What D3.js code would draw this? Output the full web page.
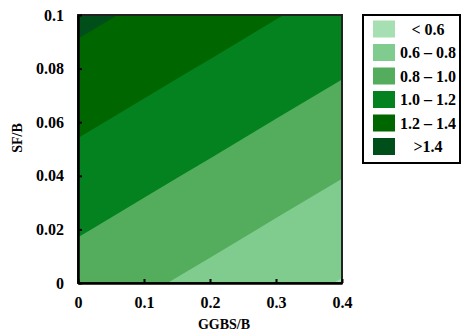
<!DOCTYPE html>
<html lang="en">
<head>
    <meta charset="UTF-8">
    <title>SF/B vs GGBS/B contour</title>
    <script type="application/javascript" src="https://cdnjs.cloudflare.com/ajax/libs/d3/7.8.5/d3.min.js"></script>
    <style type="text/css">
        body {
            margin: 0;
            background: #fff;
        }

        text {
            font-family: "Liberation Serif", "Times New Roman", serif;
            font-weight: bold;
            fill: #000;
        }

        .axis text {
            font-size: 16px;
        }
    </style>
</head>
<body>
<svg width="463" height="333"></svg>
<script type="application/javascript">
    // grid: rows are SF/B, columns GGBS/B
    var GGBS = [0, 0.1, 0.2, 0.3, 0.4];
    var SF = [0, 0.02, 0.04, 0.06, 0.08, 0.1];
    var RATIO = [
        [0.908, 0.828, 0.749, 0.669, 0.590],
        [1.016, 0.936, 0.857, 0.777, 0.698],
        [1.124, 1.044, 0.965, 0.885, 0.806],
        [1.232, 1.152, 1.073, 0.993, 0.914],
        [1.340, 1.260, 1.181, 1.101, 1.022],
        [1.448, 1.368, 1.289, 1.209, 1.130]
    ];
    var THRESHOLDS = [0.6, 0.8, 1.0, 1.2, 1.4];
    var LEGEND_LABELS = ['< 0.6', '0.6 \u2013 0.8', '0.8 \u2013 1.0', '1.0 \u2013 1.2', '1.2 \u2013 1.4', '>1.4'];
    var COLORS = ['#a6e0b2', '#80cc8e', '#53ad5c', '#03821f', '#006600', '#004f1b'];
    var X_TICKS = [0, 0.1, 0.2, 0.3, 0.4];
    var X_TICK_LABELS = ['0', '0.1', '0.2', '0.3', '0.4'];
    var Y_TICKS = [0, 0.02, 0.04, 0.06, 0.08, 0.1];
    var Y_TICK_LABELS = ['0', '0.02', '0.04', '0.06', '0.08', '0.1'];

    var svg = d3.select("svg");
    var margin = {top: 15, right: 121, bottom: 50, left: 78};
    var width = +svg.attr("width") - margin.left - margin.right;
    var height = +svg.attr("height") - margin.top - margin.bottom;

    var x = d3.scaleLinear().domain([0, 0.4]).range([0, width]);
    var y = d3.scaleLinear().domain([0, 0.1]).range([height, 0]);

    // d3.contours puts grid value i at i + 0.5
    var gx = d3.scaleLinear().domain([0.5, GGBS.length - 0.5]).range([x(GGBS[0]), x(GGBS[GGBS.length - 1])]);
    var gy = d3.scaleLinear().domain([0.5, SF.length - 0.5]).range([y(SF[0]), y(SF[SF.length - 1])]);

    var g = svg.append("g")
            .attr("transform", "translate(" + margin.left + "," + margin.top + ")");

    g.append("clipPath")
            .attr("id", "plot-clip")
            .append("rect")
            .attr("width", width)
            .attr("height", height);

    var values = [];
    RATIO.forEach(function(row) { values = values.concat(row); });

    var contours = d3.contours()
            .size([GGBS.length, SF.length])
            .thresholds(THRESHOLDS)(values);

    var path = d3.geoPath(d3.geoTransform({
        point: function(px, py) { this.stream.point(gx(px), gy(py)); }
    }));

    var plot = g.append("g").attr("clip-path", "url(#plot-clip)");

    plot.append("rect")
            .attr("width", width)
            .attr("height", height)
            .attr("fill", COLORS[0]);

    plot.selectAll("path")
            .data(contours)
            .enter().append("path")
            .attr("d", path)
            .attr("fill", function(d, i) { return COLORS[i + 1]; });

    // frame
    g.append("rect")
            .attr("width", width)
            .attr("height", height)
            .attr("fill", "none")
            .attr("stroke", "#222")
            .attr("stroke-width", 2);

    g.append("g")
            .attr("class", "axis axis--x")
            .attr("transform", "translate(0," + height + ")")
            .call(d3.axisBottom(x)
                    .tickValues(X_TICKS)
                    .tickFormat(function(d, i) { return X_TICK_LABELS[i]; })
                    .tickSizeInner(-4)
                    .tickSizeOuter(0)
                    .tickPadding(14));

    g.append("g")
            .attr("class", "axis axis--y")
            .call(d3.axisLeft(y)
                    .tickValues(Y_TICKS)
                    .tickFormat(function(d, i) { return Y_TICK_LABELS[i]; })
                    .tickSizeInner(-4)
                    .tickSizeOuter(0)
                    .tickPadding(14));

    g.selectAll(".axis path").attr("stroke", "#000").attr("stroke-width", 2.5);
    g.selectAll(".axis line").attr("stroke", "#000").attr("stroke-width", 2);
    g.selectAll(".axis text").attr("font-family", null).attr("font-size", null);

    g.append("text")
            .attr("x", 146)
            .attr("y", height + 46)
            .attr("text-anchor", "middle")
            .attr("font-size", 14)
            .text("GGBS/B");

    g.append("text")
            .attr("transform", "translate(-56," + 123 + ") rotate(-90)")
            .attr("text-anchor", "middle")
            .attr("font-size", 14)
            .text("SF/B");

    // legend, darkest last
    var legend = svg.append("g")
            .attr("transform", "translate(363,15)");

    legend.append("rect")
            .attr("width", 97)
            .attr("height", 148)
            .attr("fill", "#fff")
            .attr("stroke", "#000")
            .attr("stroke-width", 2);

    var item = legend.selectAll(".item")
            .data(LEGEND_LABELS)
            .enter().append("g")
            .attr("class", "item")
            .attr("transform", function(d, i) { return "translate(0," + (5.5 + i * 23.5) + ")"; });

    item.append("rect")
            .attr("x", 10)
            .attr("width", 22)
            .attr("height", 17)
            .attr("fill", function(d, i) { return COLORS[i]; });

    item.append("text")
            .attr("x", 65)
            .attr("y", 8.5)
            .attr("dy", "0.35em")
            .attr("text-anchor", "middle")
            .attr("font-size", 16)
            .text(function(d) { return d; });
</script>
</body>
</html>
